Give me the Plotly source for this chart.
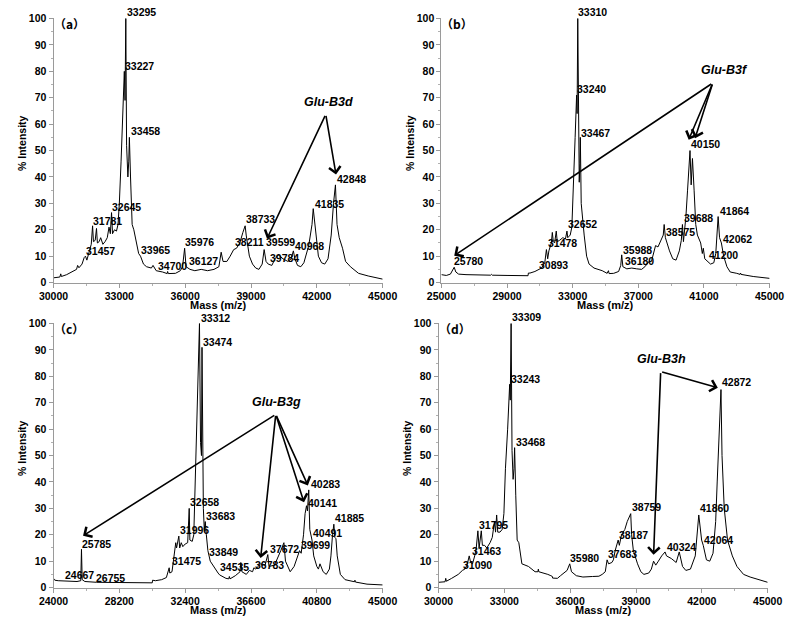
import plotly.graph_objects as go

# ---------------- data (mass, % intensity) ----------------
a_spec = [(30000,1.8),(30250,2.0),(30290,2.1),(30330,3.3),(30360,2.3),(30600,3.0),(30900,4.3),(31050,5.0),(31100,6.5),(31160,5.6),
          (31300,7.0),(31400,9.5),(31457,10.0),(31520,8.5),(31620,11.5),(31720,14.5),(31781,21.5),(31820,15.5),(31900,16.0),
          (31960,20.5),(32000,15.0),(32080,15.5),(32150,17.0),(32250,14.5),(32350,15.5),(32450,17.0),(32530,21.0),(32590,18.5),
          (32645,26.5),(32690,18.5),(32780,20.0),(32870,19.5),(32940,22.0),(33000,30.0),(33080,46.0),(33160,62.0),(33227,80.0),
          (33260,69.0),(33295,100.0),(33330,52.0),(33390,40.0),(33430,46.0),(33458,55.0),(33510,40.0),(33584,22.0),(33660,20.0),
          (33800,14.0),(33880,11.0),(33965,10.0),(34100,7.0),(34240,6.0),(34460,5.5),(34535,6.5),(34680,4.5),(34970,4.0),
          (35180,3.4),(35200,4.2),(35230,3.4),(35560,3.5),(35780,4.5),(35880,6.0),(35976,13.0),(36040,6.0),(36220,5.0),
          (36440,4.5),(36730,5.0),(37020,4.5),(37315,5.0),(37535,6.0),(37640,11.5),(37725,8.0),(37900,8.0),(38050,10.0),
          (38211,12.5),(38340,13.0),(38490,15.0),(38630,19.0),(38733,21.5),(38780,18.0),(38925,10.0),(39070,7.0),(39215,5.5),
          (39360,5.0),(39510,7.0),(39599,12.5),(39685,8.0),(39784,7.0),(39950,6.5),(40095,9.0),(40240,10.5),(40460,9.0),
          (40680,8.0),(40830,9.0),(40930,12.0),(41000,9.0),(41120,6.5),(41270,6.0),(41410,7.5),(41630,14.0),(41780,22.0),
          (41835,28.0),(41925,20.0),(42070,10.0),(42215,7.5),(42360,7.0),(42510,9.0),(42655,18.0),(42760,30.0),(42848,37.0),
          (42920,22.0),(43020,17.0),(43170,13.0),(43310,8.0),(43530,6.0),(43900,3.5),(44340,2.5),(45000,1.3)]

b_spec = [(25000,3.0),(25300,2.7),(25550,3.2),(25680,4.5),(25780,5.8),(25880,4.0),(26050,3.2),(26500,3.0),(27200,2.9),
          (28000,2.8),(28050,3.1),(28100,2.8),(29000,2.7),(30000,2.5),(30280,2.6),(30300,3.6),(30400,3.6),(30700,4.2),
          (30893,4.8),(31100,5.5),(31300,7.5),(31400,12.5),(31478,9.0),(31550,12.0),(31700,15.0),(31760,19.0),(31820,15.5),
          (31900,15.0),(32000,19.5),(32060,15.5),(32200,16.0),(32400,17.0),(32560,16.5),(32652,19.5),(32700,17.0),
          (32850,18.0),(32950,21.0),(33050,35.0),(33150,55.0),(33240,71.0),(33270,64.0),(33310,100.0),(33350,50.0),
          (33400,38.0),(33440,45.0),(33467,55.0),(33520,30.0),(33600,23.0),(33700,18.0),(33850,10.0),(34000,7.0),
          (34300,5.5),(34600,5.0),(34800,4.5),(35100,3.5),(35180,4.5),(35220,3.4),(35500,3.5),(35800,4.2),(35930,6.5),
          (35988,10.5),(36060,6.0),(36300,5.2),(36600,5.5),(36900,5.2),(37200,5.0),(37400,6.0),(37550,7.5),(37650,8.0),
          (37800,8.0),(37950,12.0),(38050,14.0),(38200,13.5),(38400,16.0),(38520,18.0),(38575,22.0),(38650,17.0),
          (38900,12.0),(39100,9.0),(39300,8.5),(39500,12.0),(39620,16.0),(39688,22.0),(39750,15.5),(39900,25.0),
          (40000,35.0),(40100,46.0),(40150,50.0),(40220,37.0),(40300,47.0),(40400,35.0),(40500,22.0),(40600,18.0),
          (40800,15.0),(40900,11.0),(40960,13.0),(41050,9.0),(41200,8.0),(41400,7.0),(41600,7.5),(41720,11.0),
          (41864,25.0),(41950,17.0),(42062,15.0),(42200,10.0),(42400,6.0),(42600,4.0),(43000,3.5),(43200,3.1),
          (43230,3.6),(43260,3.1),(44000,2.3),(45000,1.6)]

c_spec = [(24000,3.5),(24080,2.8),(24300,2.6),(24667,2.5),(25000,2.4),(25500,2.3),(25740,2.6),(25785,14.5),(25830,3.0),
          (26000,2.3),(26755,2.0),(27500,1.9),(28500,1.8),(29500,1.8),(30300,1.8),(30320,2.8),(30500,2.6),(30900,3.0),
          (31200,3.8),(31380,7.5),(31420,5.5),(31560,6.0),(31700,12.0),(31800,17.0),(31850,15.0),(31996,19.5),
          (32050,15.0),(32150,17.0),(32250,15.5),(32400,16.5),(32560,17.0),(32658,30.0),(32700,18.0),(32850,17.5),
          (32950,20.0),(33050,40.0),(33200,75.0),(33312,100.0),(33380,55.0),(33440,50.0),(33474,91.0),(33560,30.0),
          (33620,22.0),(33683,25.0),(33750,20.0),(33849,14.0),(34000,10.0),(34300,7.0),(34500,5.5),(34600,4.8),
          (34800,4.0),(35000,3.5),(35180,3.3),(35220,4.2),(35260,3.3),(35600,4.5),(35900,6.0),(35950,9.5),(36020,6.0),
          (36300,5.0),(36500,6.5),(36700,6.0),(36783,7.5),(36900,7.0),(37050,8.0),(37200,9.0),(37500,8.5),(37672,12.5),
          (37750,8.0),(38100,8.5),(38500,14.0),(38700,17.0),(38800,10.0),(38950,8.0),(39100,6.0),(39350,8.0),(39500,11.0),
          (39699,14.0),(39800,13.0),(39950,20.0),(40050,28.0),(40141,31.0),(40200,29.0),(40283,37.0),(40350,22.0),
          (40491,18.0),(40600,12.0),(40800,8.0),(40900,7.0),(41000,9.0),(41200,6.0),(41400,5.0),(41600,7.0),(41700,12.0),
          (41800,20.0),(41885,24.0),(41950,19.0),(42020,18.5),(42100,12.0),(42300,5.0),(42600,3.0),(42900,2.5),
          (43200,2.2),(43230,2.8),(43260,2.1),(44000,1.3),(45000,1.0)]

d_spec = [(30000,2.0),(30300,2.2),(30330,3.5),(30360,2.4),(30600,3.5),(30900,5.0),(31090,6.5),(31200,7.0),(31300,8.5),
          (31400,12.0),(31463,9.5),(31550,9.0),(31650,12.0),(31720,15.0),(31795,21.5),(31850,15.0),(31950,21.5),
          (32000,16.0),(32100,16.0),(32200,15.0),(32350,17.0),(32450,19.0),(32550,25.0),(32600,21.0),(32650,27.5),
          (32700,21.0),(32800,21.0),(32900,22.0),(32980,28.0),(33050,45.0),(33150,60.0),(33243,77.0),(33270,71.0),
          (33309,100.0),(33350,52.0),(33400,41.0),(33440,45.0),(33468,53.0),(33520,35.0),(33585,18.0),(33660,17.0),
          (33730,12.0),(33800,9.0),(34100,8.0),(34250,7.0),(34400,6.0),(34530,6.0),(34550,7.0),(34570,6.0),(34830,5.5),
          (34980,5.0),(35120,4.5),(35190,4.2),(35200,3.6),(35270,3.5),(35420,3.5),(35560,4.5),(35860,6.5),(35980,9.0),
          (36060,6.0),(36280,4.5),(36580,4.0),(37020,4.2),(37310,4.3),(37460,5.0),(37600,6.0),(37683,10.5),(37750,9.0),
          (37900,9.5),(37970,10.5),(38050,14.0),(38187,18.0),(38240,16.0),(38340,20.0),(38490,22.0),(38600,25.0),
          (38759,28.0),(38800,20.0),(38880,14.0),(39070,9.0),(39220,6.0),(39360,5.0),(39580,5.5),(39700,7.0),
          (39800,10.0),(39900,8.5),(40020,10.0),(40170,12.0),(40324,13.5),(40390,12.0),(40610,11.0),(40760,10.0),
          (40830,9.5),(40970,13.5),(41120,8.0),(41270,6.5),(41480,7.0),(41700,12.0),(41860,27.5),(41990,18.0),
          (42064,16.0),(42210,10.5),(42360,10.0),(42510,13.0),(42630,25.0),(42700,40.0),(42872,75.0),(42920,50.0),
          (43020,30.0),(43170,18.0),(43390,12.0),(43600,8.0),(43900,5.0),(44200,4.0),(45000,2.0)]

# peak labels: (text, mass, intensity of label centre)
a_labels = [("33295",33292,102.3),("33227",33220,82),("33458",33467,57.4),("32645",32633,28.6),("31781",31756,23.3),
            ("31457",31434,11.9),("33965",33950,12.2),("34700",34725,6.4),("35976",35969,15.4),("36127",36145,8.2),
            ("38211",38222,15.4),("38733",38734,23.9),("39599",39627,15.4),("39784",39802,9.2),("40968",40972,13.8),
            ("41835",41850,29.8),("42848",42874,39.4)]
b_labels = [("33310",33278,102.3),("33240",33219,73.4),("33467",33474,56.8),("32652",32632,22),("31478",31458,14.8),
            ("30893",30910,6.5),("25780",25724,8),("35988",35998,12.4),("36180",36155,8),("38575",38601,19.1),
            ("39688",39717,24.5),("41864",41928,27),("42062",42085,16.6),("41200",41243,10.4),("40150",40167,52.3)]
c_labels = [("33312",33323,102.2),("33474",33487,93),("32658",32667,32.3),("31996",31991,21.7),("33683",33692,27.3),
            ("31475",31479,9.9),("33849",33835,13.6),("34535",34552,7.7),("36783",36806,8.7),("37672",37728,14.5),
            ("39699",39736,16.1),("40491",40494,20.5),("40141",40146,31.9),("40283",40351,39.1),("41885",41888,26.3),
            ("25785",25783,16.5),("24667",24656,4.7),("26755",26623,3.7)]
d_labels = [("33309",33321,102.5),("33243",33248,78.9),("33468",33467,55.2),("31795",31785,23.6),("31463",31463,13.9),
            ("31090",31068,8.7),("35980",35969,11.2),("37683",37681,12.8),("38187",38193,20.1),("38759",38778,30.4),
            ("40324",40358,15.5),("41860",41850,30),("42064",42070,18.2),("42872",42874,77.7)]

# allele names and arrows (head mass, head int, tail mass, tail int)
a_glu = ("Glu-B3d", 42509, 68.5)
b_glu = ("Glu-B3f", 42261, 80.6)
c_glu = ("Glu-B3g", 38241, 70.3)
d_glu = ("Glu-B3h", 40168, 86.7)
a_arrows = [(39729,16.6,42406,63.7),(42874,40.9,42406,63.7)]
b_arrows = [(25783,10.2,41537,75.6),(40069,54.1,41537,75.6),(40460,54.7,41537,75.6)]
c_arrows = [(25885,19.6,38179,65.6),(37216,11.2,38179,65.6),(39982,32.3,38179,65.6),(40228,38.7,38179,65.6)]
d_arrows = [(39802,12.4,40124,81.8),(42728,75.7,40124,81.8)]

a_xticks = [30000,33000,36000,39000,42000,45000]
b_xticks = [25000,29000,33000,37000,41000,45000]
c_xticks = [24000,28200,32400,36600,40800,45000]
d_xticks = [30000,33000,36000,39000,42000,45000]
y_ticks = [0,10,20,30,40,50,60,70,80,90,100]
letters = ["（a）","（b）","（c）","（d）"]

# ---------------- figure ----------------
W, H = 800, 623
def px_x(p): return p / W
def px_y(p): return 1 - p / H

panels = [
    dict(spec=a_spec, labels=a_labels, glu=a_glu, arrows=a_arrows, xt=a_xticks, xd=[40,382], yd=[12,282]),
    dict(spec=b_spec, labels=b_labels, glu=b_glu, arrows=b_arrows, xt=b_xticks, xd=[443,784], yd=[12,282]),
    dict(spec=c_spec, labels=c_labels, glu=c_glu, arrows=c_arrows, xt=c_xticks, xd=[40,382], yd=[323,593]),
    dict(spec=d_spec, labels=d_labels, glu=d_glu, arrows=d_arrows, xt=d_xticks, xd=[440,782], yd=[323,593]),
]

FONT = "Liberation Sans"
fig = go.Figure()
ann = []
YMAX = 100.3
for i, p in enumerate(panels):
    n = "" if i == 0 else str(i + 1)
    xs = [m for m, v in p["spec"]]
    ys = [v for m, v in p["spec"]]
    fig.add_trace(go.Scatter(x=xs, y=ys, mode="lines", line=dict(color="black", width=1),
                             xaxis="x" + n, yaxis="y" + n, showlegend=False, hoverinfo="skip"))
    xt = p["xt"]
    step = xt[1] - xt[0]
    fig.update_layout({
        "xaxis" + n: dict(domain=[px_x(p["xd"][0]), px_x(p["xd"][1])], range=[xt[0], xt[-1]],
                          anchor="y" + n, tickmode="array", tickvals=xt, ticktext=[str(t) for t in xt],
                          showline=True, linecolor="#9a9a9a", linewidth=1, ticks="outside", ticklen=4,
                          tickcolor="#9a9a9a", showgrid=False, zeroline=False, fixedrange=True,
                          minor=dict(ticks="outside", ticklen=2, tickcolor="#b0b0b0", dtick=step / 2, tick0=xt[0], showgrid=False),
                          tickfont=dict(family=FONT, size=10.5, color="black", weight="bold")),
        "yaxis" + n: dict(domain=[px_y(p["yd"][1]), px_y(p["yd"][0])], range=[0, YMAX],
                          anchor="x" + n, tickmode="array", tickvals=y_ticks, ticktext=[str(t) for t in y_ticks],
                          showline=True, linecolor="#9a9a9a", linewidth=1, ticks="outside", ticklen=4,
                          tickcolor="#9a9a9a", showgrid=False, zeroline=False, fixedrange=True,
                          minor=dict(ticks="outside", ticklen=2, tickcolor="#b0b0b0", dtick=5, tick0=0, showgrid=False),
                          tickfont=dict(family=FONT, size=10.5, color="black", weight="bold")),
    })
    ppu = (p["yd"][1] - p["yd"][0]) / YMAX
    for txt, mx, iy in p["labels"]:
        shift = 0
        if iy > YMAX:
            shift = (iy - YMAX) * ppu
            iy = YMAX
        ann.append(dict(x=mx, y=iy, xref="x" + n, yref="y" + n, text=txt, showarrow=False,
                        xanchor="left", yanchor="middle", yshift=shift, xshift=-1,
                        font=dict(family=FONT, size=10.5, color="black", weight="bold")))
    g, gx, gy = p["glu"]
    ann.append(dict(x=gx, y=gy, xref="x" + n, yref="y" + n, text="<i>" + g + "</i>", showarrow=False,
                    xanchor="center", yanchor="middle",
                    font=dict(family=FONT, size=12.5, color="black", weight="bold")))
    for hx, hy, tx, ty in p["arrows"]:
        ann.append(dict(x=hx, y=hy, ax=tx, ay=ty, xref="x" + n, yref="y" + n, axref="x" + n, ayref="y" + n,
                        text="", showarrow=True, arrowhead=4, arrowsize=1.4, arrowwidth=1.6,
                        arrowcolor="black", standoff=0, startstandoff=0))
    # panel letter
    ann.append(dict(x=xt[0], y=98, xref="x" + n, yref="y" + n, text=letters[i], showarrow=False,
                    xanchor="left", yanchor="middle", xshift=-2,
                    font=dict(family="Noto Sans CJK SC", size=12, color="black", weight="bold")))
    # axis titles
    xc = (p["xd"][0] + p["xd"][1]) / 2
    ann.append(dict(x=px_x(xc), y=px_y(p["yd"][1] + 23), xref="paper", yref="paper", text="Mass (m/z)",
                    showarrow=False, xanchor="center", yanchor="middle",
                    font=dict(family=FONT, size=11, color="black", weight="bold")))
    ann.append(dict(x=px_x(p["xd"][0] - 32), y=px_y(p["yd"][0] + 128), xref="paper", yref="paper",
                    text="% Intensity", textangle=-90, showarrow=False, xanchor="center", yanchor="middle",
                    font=dict(family=FONT, size=10.5, color="black", weight="bold")))

fig.update_layout(width=W, height=H, margin=dict(l=0, r=0, t=0, b=0), paper_bgcolor="white",
                  plot_bgcolor="white", annotations=ann, showlegend=False, hovermode=False)
fig.write_html("out.html", config={"displayModeBar": False, "staticPlot": True},
               post_script="document.body.style.margin='0';document.body.style.overflow='hidden';")
